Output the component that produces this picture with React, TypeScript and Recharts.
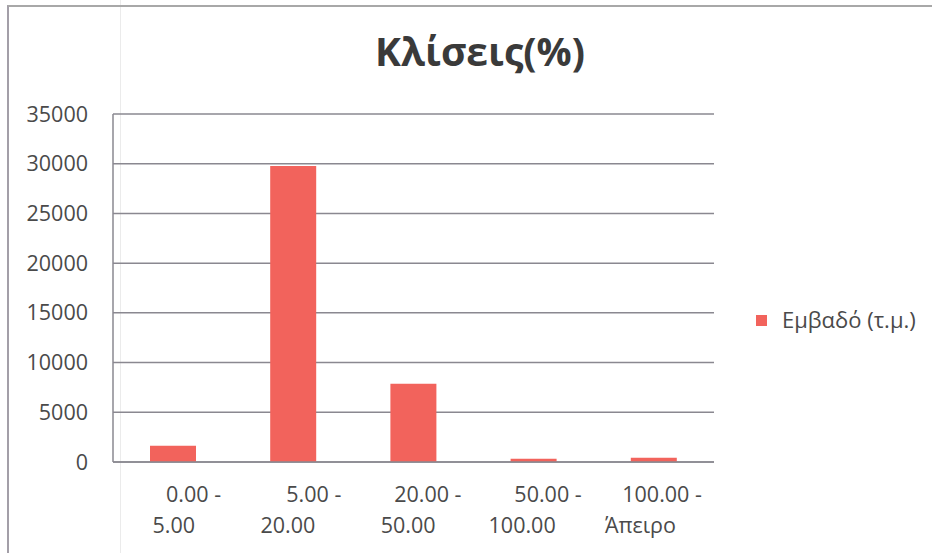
import React from 'react';
import { BarChart, Bar, XAxis, YAxis, CartesianGrid, Legend } from 'recharts';

// Slope classes (two-line category labels)
const categoriesTop = ['0.00 -', '5.00 -', '20.00 -', '50.00 -', '100.00 -'];
const categoriesBottom = ['5.00', '20.00', '50.00', '100.00', 'Άπειρο'];
// Area per slope class (sq. m)
const areaValues = [1630, 29780, 7870, 320, 420];
const yTicks = [0, 5000, 10000, 15000, 20000, 25000, 30000, 35000];
const seriesName = 'Εμβαδό (τ.μ.)';
const titleText = 'Κλίσεις(%)';

const data = categoriesTop.map((top, i) => ({
  label: `${top} ${categoriesBottom[i]}`,
  area: areaValues[i],
}));

const FONT = '"Open Sans", "Noto Sans", sans-serif';
const TEXT_COLOR = '#4a4a4a';
const GRID_COLOR = '#8a8890';
const BAR_COLOR = '#F2635C';

const CategoryTick = (props: any) => {
  const { x, y, payload } = props;
  const i = payload.index;
  return (
    <g>
      <text x={x + 48} y={y + 40} textAnchor="end" fill={TEXT_COLOR} fontFamily={FONT} fontSize={21.5}>
        {categoriesTop[i]}
      </text>
      <text x={x + 22} y={y + 71} textAnchor="end" fill={TEXT_COLOR} fontFamily={FONT} fontSize={21.5}>
        {categoriesBottom[i]}
      </text>
    </g>
  );
};

const LegendContent = (props: any) => {
  const { payload } = props;
  return (
    <div>
      {(payload || []).map((entry: any) => (
        <div key={entry.value} style={{ display: 'flex', alignItems: 'flex-start', lineHeight: '28px' }}>
          <span
            style={{ display: 'inline-block', width: 11, height: 11, background: entry.color, marginTop: 10, marginRight: 15 }}
          />
          <span style={{ fontFamily: FONT, fontSize: 22, color: TEXT_COLOR, whiteSpace: 'nowrap' }}>{entry.value}</span>
        </div>
      ))}
    </div>
  );
};

export default function App() {
  return (
    <div style={{ position: 'absolute', left: 0, top: 0, width: 932, height: 553, background: '#ffffff', overflow: 'hidden' }}>
      <div style={{ position: 'absolute', left: 120, top: 0, width: 1, height: 553, background: '#ebebeb' }} />
      <div
        style={{
          position: 'absolute',
          left: 7,
          top: 5,
          right: -4,
          bottom: -4,
          borderTop: '2px solid #a8a8a8',
          borderLeft: '2px solid #a39fa8',
        }}
      />
      <div style={{ position: 'absolute', left: 0, top: 0 }}>
        <BarChart
          width={932}
          height={553}
          data={data}
          margin={{ top: 114, right: 218, bottom: 11, left: 13 }}
          barSize={46}
        >
          <CartesianGrid vertical={false} stroke={GRID_COLOR} strokeWidth={1.5} />
          <XAxis
            dataKey="label"
            height={80}
            axisLine={{ stroke: GRID_COLOR, strokeWidth: 1.5 }}
            tickLine={false}
            tickSize={0}
            tickMargin={0}
            interval={0}
            tick={<CategoryTick />}
          />
          <YAxis
            width={100}
            domain={[0, 35000]}
            ticks={yTicks}
            axisLine={{ stroke: GRID_COLOR, strokeWidth: 1.5 }}
            tickLine={false}
            tickSize={0}
            tickMargin={25}
            tick={{ fill: TEXT_COLOR, fontFamily: FONT, fontSize: 21.5 }}
          />
          <Legend
            layout="vertical"
            align="center"
            verticalAlign="middle"
            content={<LegendContent />}
            wrapperStyle={{ left: 756, top: 305, width: 176 }}
          />
          <Bar dataKey="area" name={seriesName} fill={BAR_COLOR} isAnimationActive={false} />
        </BarChart>
      </div>
      <svg width={932} height={553} style={{ position: 'absolute', left: 0, top: 0, pointerEvents: 'none' }}>
        <text x={480} y={66} textAnchor="middle" fill="#3a3a3a" fontFamily={FONT} fontWeight={700} fontSize={39}>
          {titleText}
        </text>
      </svg>
    </div>
  );
}
